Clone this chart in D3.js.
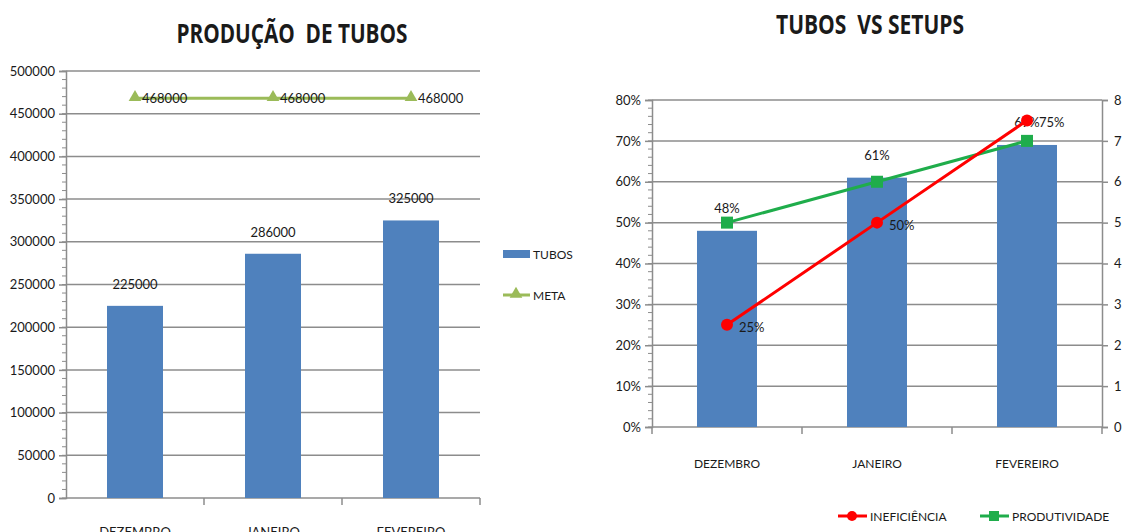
<!DOCTYPE html>
<html>
<head>
<meta charset="utf-8">
<script src="https://cdn.jsdelivr.net/npm/d3@7"></script>
<style>
  html, body { margin: 0; padding: 0; background: #fff; overflow: hidden; }
  svg { display: block; }
  text { font-family: Lato, 'Open Sans', sans-serif; fill: #1a1a1a; }
</style>
</head>
<body>
<div id="chart"></div>
<script>
(function(d3) {
  'use strict';

  // data
  var categories = ['DEZEMBRO', 'JANEIRO', 'FEVEREIRO'];
  var tubos = [225000, 286000, 325000];
  var meta = [468000, 468000, 468000];
  var tubosPct = [0.48, 0.61, 0.69];
  var ineficiencia = [0.25, 0.50, 0.75];
  var produtividade = [5, 6, 7];

  var width = 1123, height = 532;
  var gridColor = '#8c8c8c';
  var blue = '#4f81bd';

  var svg = d3.select('#chart').append('svg')
    .attr('width', width)
    .attr('height', height);

  // ---------- left chart: PRODUÇÃO DE TUBOS ----------
  var x1 = d3.scaleBand().domain(categories).range([66, 480]);
  var y1 = d3.scaleLinear().domain([0, 500000]).range([498, 71]);

  var left = svg.append('g');

  left.append('text')
    .attr('x', 292).attr('y', 43)
    .attr('text-anchor', 'middle')
    .attr('textLength', 231).attr('lengthAdjust', 'spacingAndGlyphs')
    .style('font-size', '27px').style('font-weight', 'bold')
    .style('font-family', "'Open Sans', sans-serif")
    .style('white-space', 'pre')
    .text('PRODUÇÃO  DE TUBOS');

  left.append('g').selectAll('line')
    .data(y1.ticks(10).filter(function(d) { return d > 0; }))
    .enter().append('line')
    .attr('x1', 66).attr('x2', 480)
    .attr('y1', function(d) { return y1(d); })
    .attr('y2', function(d) { return y1(d); })
    .attr('stroke', gridColor).attr('stroke-width', 1.5);

  // minor ticks
  left.append('g').selectAll('line')
    .data(d3.range(0, 500001, 10000))
    .enter().append('line')
    .attr('x1', 62).attr('x2', 66)
    .attr('y1', function(d) { return y1(d); })
    .attr('y2', function(d) { return y1(d); })
    .attr('stroke', gridColor).attr('stroke-width', 1);

  var yAxis1 = left.append('g')
    .attr('transform', 'translate(66,0)')
    .call(d3.axisLeft(y1).ticks(10).tickSize(7).tickPadding(4).tickFormat(d3.format('d')));
  yAxis1.select('.domain').attr('stroke', gridColor).attr('stroke-width', 1.5);
  yAxis1.selectAll('.tick line').attr('stroke', gridColor).attr('stroke-width', 1.5);
  yAxis1.selectAll('.tick text').style('font-size', '13px').style('fill', '#1a1a1a')
    .style('font-family', 'Lato, sans-serif');

  // x baseline + category ticks
  left.append('line')
    .attr('x1', 66).attr('x2', 480).attr('y1', 498).attr('y2', 498)
    .attr('stroke', gridColor).attr('stroke-width', 1.5);
  left.append('g').selectAll('line')
    .data(categories)
    .enter().append('line')
    .attr('x1', function(d) { return x1(d) + x1.bandwidth(); })
    .attr('x2', function(d) { return x1(d) + x1.bandwidth(); })
    .attr('y1', 498).attr('y2', 505)
    .attr('stroke', gridColor).attr('stroke-width', 1.5);

  left.append('g').selectAll('text')
    .data(categories)
    .enter().append('text')
    .attr('x', function(d) { return x1(d) + x1.bandwidth() / 2; })
    .attr('y', 537)
    .attr('text-anchor', 'middle')
    .style('font-size', '13px')
    .text(function(d) { return d; });

  var bw1 = 56;
  left.append('g').selectAll('rect')
    .data(tubos)
    .enter().append('rect')
    .attr('x', function(d, i) { return x1(categories[i]) + x1.bandwidth() / 2 - bw1 / 2; })
    .attr('y', function(d) { return y1(d); })
    .attr('width', bw1)
    .attr('height', function(d) { return y1(0) - y1(d); })
    .attr('fill', blue);

  left.append('g').selectAll('text')
    .data(tubos)
    .enter().append('text')
    .attr('x', function(d, i) { return x1(categories[i]) + x1.bandwidth() / 2; })
    .attr('y', function(d) { return y1(d) - 17; })
    .attr('text-anchor', 'middle')
    .style('font-size', '13px')
    .text(function(d) { return d; });

  var metaLine = d3.line()
    .x(function(d, i) { return x1(categories[i]) + x1.bandwidth() / 2; })
    .y(function(d) { return y1(d); });

  left.append('path')
    .datum(meta)
    .attr('d', metaLine)
    .attr('fill', 'none')
    .attr('stroke', '#9bbb59').attr('stroke-width', 3);

  var tri = d3.symbol().type(d3.symbolTriangle).size(70);
  left.append('g').selectAll('path')
    .data(meta)
    .enter().append('path')
    .attr('d', tri)
    .attr('transform', function(d, i) {
      return 'translate(' + (x1(categories[i]) + x1.bandwidth() / 2) + ',' + (y1(d) - 1) + ')';
    })
    .attr('fill', '#9bbb59');

  left.append('g').selectAll('text')
    .data(meta)
    .enter().append('text')
    .attr('x', function(d, i) { return x1(categories[i]) + x1.bandwidth() / 2 + 7; })
    .attr('y', function(d) { return y1(d) + 5; })
    .style('font-size', '13px')
    .text(function(d) { return d; });

  // legend
  left.append('rect')
    .attr('x', 503).attr('y', 250).attr('width', 27).attr('height', 8)
    .attr('fill', blue);
  left.append('text').attr('x', 533).attr('y', 259)
    .style('font-size', '12px').text('TUBOS');
  left.append('line')
    .attr('x1', 503).attr('x2', 530).attr('y1', 295).attr('y2', 295)
    .attr('stroke', '#9bbb59').attr('stroke-width', 3);
  left.append('path')
    .attr('d', tri)
    .attr('transform', 'translate(516,294)')
    .attr('fill', '#9bbb59');
  left.append('text').attr('x', 533).attr('y', 300)
    .style('font-size', '12px').text('META');

  // ---------- right chart: TUBOS VS SETUPS ----------
  var x2 = d3.scaleBand().domain(categories).range([652, 1102]);
  var y2 = d3.scaleLinear().domain([0, 0.8]).range([427, 100]);
  var y2r = d3.scaleLinear().domain([0, 8]).range([427, 100]);

  var right = svg.append('g');

  right.append('text')
    .attr('x', 870).attr('y', 34)
    .attr('text-anchor', 'middle')
    .attr('textLength', 188).attr('lengthAdjust', 'spacingAndGlyphs')
    .style('font-size', '26px').style('font-weight', 'bold')
    .style('font-family', "'Open Sans', sans-serif")
    .style('white-space', 'pre')
    .text('TUBOS  VS SETUPS');

  right.append('g').selectAll('line')
    .data(y2.ticks(8).filter(function(d) { return d > 0; }))
    .enter().append('line')
    .attr('x1', 652).attr('x2', 1102)
    .attr('y1', function(d) { return y2(d); })
    .attr('y2', function(d) { return y2(d); })
    .attr('stroke', gridColor).attr('stroke-width', 1.5);

  right.append('g').selectAll('line')
    .data(d3.range(0, 41).map(function(i) { return i * 0.02; }))
    .enter().append('line')
    .attr('x1', 648).attr('x2', 652)
    .attr('y1', function(d) { return y2(d); })
    .attr('y2', function(d) { return y2(d); })
    .attr('stroke', gridColor).attr('stroke-width', 1);

  var yAxis2 = right.append('g')
    .attr('transform', 'translate(652,0)')
    .call(d3.axisLeft(y2).ticks(8).tickSize(7).tickPadding(4).tickFormat(d3.format('.0%')));
  var yAxis2r = right.append('g')
    .attr('transform', 'translate(1102,0)')
    .call(d3.axisRight(y2r).ticks(8).tickSize(6).tickPadding(6));
  [yAxis2, yAxis2r].forEach(function(a) {
    a.select('.domain').attr('stroke', gridColor).attr('stroke-width', 1.5);
    a.selectAll('.tick line').attr('stroke', gridColor).attr('stroke-width', 1.5);
    a.selectAll('.tick text').style('font-size', '13px').style('fill', '#1a1a1a')
      .style('font-family', 'Lato, sans-serif');
  });

  right.append('line')
    .attr('x1', 652).attr('x2', 1102).attr('y1', 427).attr('y2', 427)
    .attr('stroke', gridColor).attr('stroke-width', 1.5);
  right.append('g').selectAll('line')
    .data([652].concat(categories.map(function(d) { return x2(d) + x2.bandwidth(); })))
    .enter().append('line')
    .attr('x1', function(d) { return d; }).attr('x2', function(d) { return d; })
    .attr('y1', 427).attr('y2', 434)
    .attr('stroke', gridColor).attr('stroke-width', 1.5);

  right.append('g').selectAll('text')
    .data(categories)
    .enter().append('text')
    .attr('x', function(d) { return x2(d) + x2.bandwidth() / 2; })
    .attr('y', 468)
    .attr('text-anchor', 'middle')
    .style('font-size', '12px')
    .text(function(d) { return d; });

  var bw2 = 60;
  var cx2 = function(i) { return x2(categories[i]) + x2.bandwidth() / 2; };

  right.append('g').selectAll('rect')
    .data(tubosPct)
    .enter().append('rect')
    .attr('x', function(d, i) { return cx2(i) - bw2 / 2; })
    .attr('y', function(d) { return y2(d); })
    .attr('width', bw2)
    .attr('height', function(d) { return y2(0) - y2(d); })
    .attr('fill', blue);

  right.append('g').selectAll('text')
    .data(tubosPct)
    .enter().append('text')
    .attr('x', function(d, i) { return cx2(i); })
    .attr('y', function(d) { return y2(d) - 18; })
    .attr('text-anchor', 'middle')
    .style('font-size', '13px')
    .text(d3.format('.0%'));

  var green = '#1fad4b', red = '#ff0000';

  right.append('path')
    .datum(produtividade)
    .attr('d', d3.line().x(function(d, i) { return cx2(i); }).y(function(d) { return y2r(d); }))
    .attr('fill', 'none').attr('stroke', green).attr('stroke-width', 3);

  right.append('path')
    .datum(ineficiencia)
    .attr('d', d3.line().x(function(d, i) { return cx2(i); }).y(function(d) { return y2(d); }))
    .attr('fill', 'none').attr('stroke', red).attr('stroke-width', 3);

  right.append('g').selectAll('rect')
    .data(produtividade)
    .enter().append('rect')
    .attr('x', function(d, i) { return cx2(i) - 6; })
    .attr('y', function(d) { return y2r(d) - 6; })
    .attr('width', 12).attr('height', 12)
    .attr('fill', green);

  right.append('g').selectAll('circle')
    .data(ineficiencia)
    .enter().append('circle')
    .attr('cx', function(d, i) { return cx2(i); })
    .attr('cy', function(d) { return y2(d); })
    .attr('r', 6)
    .attr('fill', red);

  right.append('g').selectAll('text')
    .data(ineficiencia)
    .enter().append('text')
    .attr('x', function(d, i) { return cx2(i) + 12; })
    .attr('y', function(d) { return y2(d) + 7; })
    .style('font-size', '13px')
    .text(d3.format('.0%'));

  // legend
  right.append('line')
    .attr('x1', 838).attr('x2', 867).attr('y1', 516).attr('y2', 516)
    .attr('stroke', red).attr('stroke-width', 3);
  right.append('circle').attr('cx', 852).attr('cy', 516).attr('r', 5).attr('fill', red);
  right.append('text').attr('x', 870).attr('y', 521)
    .style('font-size', '12px').text('INEFICIÊNCIA');
  right.append('line')
    .attr('x1', 980).attr('x2', 1009).attr('y1', 516).attr('y2', 516)
    .attr('stroke', green).attr('stroke-width', 3);
  right.append('rect').attr('x', 989).attr('y', 511).attr('width', 10).attr('height', 10)
    .attr('fill', green);
  right.append('text').attr('x', 1012).attr('y', 521)
    .style('font-size', '12px').text('PRODUTIVIDADE');

})(window.d3);
</script>
</body>
</html>
